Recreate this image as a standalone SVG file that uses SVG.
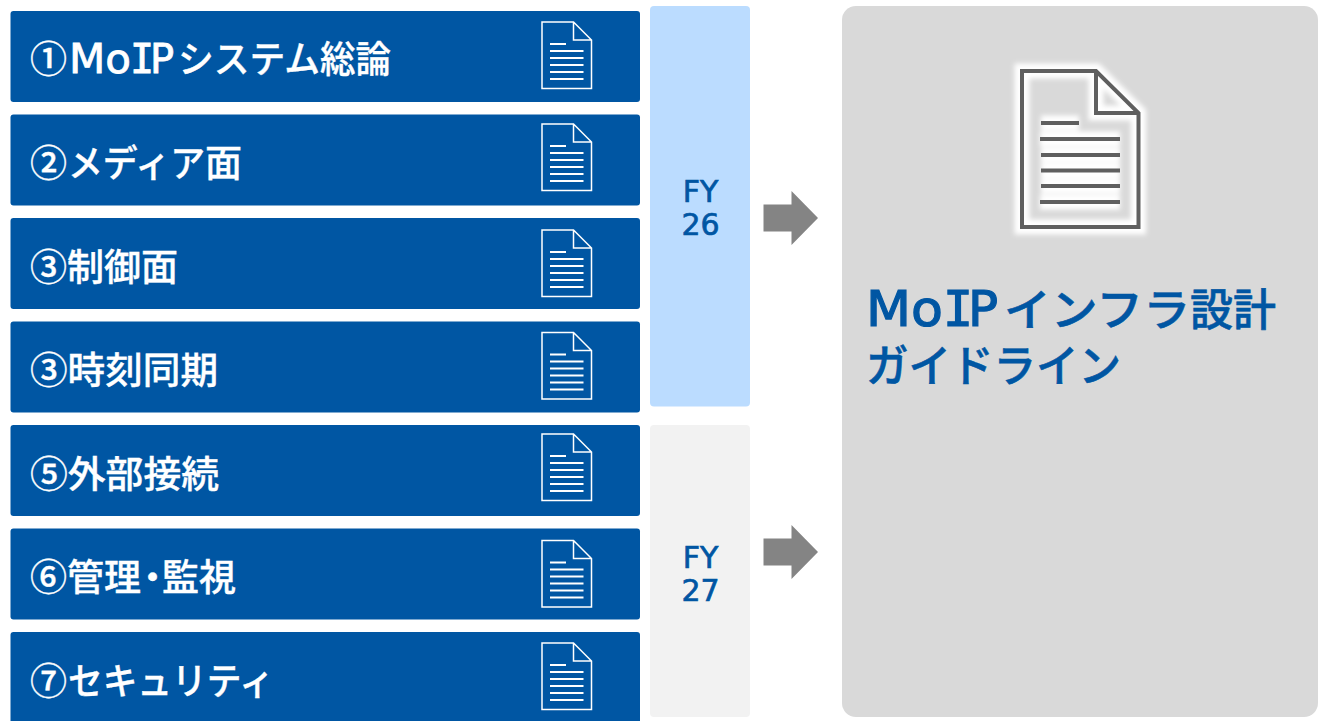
<svg xmlns="http://www.w3.org/2000/svg" width="1332" height="721" viewBox="0 0 1332 721">
<style>
.row{fill:#0056a3}
.lbl{font-family:"Noto Sans CJK JP","Noto Sans",sans-serif;font-size:37px;font-weight:500;fill:#fff;stroke:#fff;stroke-width:.35}
.lat{font-family:"DejaVu Sans",sans-serif;font-size:40px;font-weight:400;stroke:#fff;stroke-width:.8}
.mono{font-family:"DejaVu Sans Mono",monospace;font-size:40px;font-weight:400;stroke:#fff;stroke-width:.8}
.fy{font-family:"DejaVu Sans",sans-serif;font-size:30px;fill:#0056a3;text-anchor:middle;stroke:#0056a3;stroke-width:.7}
.ttl{font-family:"Noto Sans CJK JP","Noto Sans",sans-serif;font-size:44px;font-weight:500;fill:#0056a3;stroke:#0056a3;stroke-width:.6}
.ttllat{font-family:"DejaVu Sans",sans-serif;font-size:50px;stroke:#0056a3;stroke-width:1.2}
.ttlmono{font-family:"DejaVu Sans Mono",monospace;font-size:50px;stroke:#0056a3;stroke-width:1.2}
.arw{fill:#848484}
.ic{fill:none;stroke:#fff;stroke-width:1.5}
.icl{fill:none;stroke:#fff;stroke-width:1.8}
.big{fill:none;stroke:#5f5f5f;stroke-width:4}
.glow{fill:none;stroke:#fff;stroke-width:15}
</style>
<defs>
<filter id="blur" x="-20%" y="-20%" width="140%" height="140%"><feGaussianBlur stdDeviation="2.500"/></filter>
<g id="doc">
<path class="ic" d="M0 0H31.500L49.500 18V66.500H0ZM31.500 0V18H49.500"/>
<path class="icl" d="M8 22H24M8 29H41.500M8 36H41.500M8 43H41.500M8 50H41.500M8 57H41.500"/>
</g>
</defs>
<rect width="1332" height="721" fill="#fff"/>
<g id="n1"><rect class="row" x="10.500" y="11" width="629.500" height="91" rx="3"/><text class="lbl" y="73"><tspan x="30">①</tspan><tspan class="lat" x="69" textLength="62" lengthAdjust="spacingAndGlyphs">Mo</tspan><tspan class="mono" x="130">I</tspan><tspan class="lat" x="150">P</tspan><tspan x="178" textLength="142" lengthAdjust="spacingAndGlyphs">システム</tspan><tspan x="320" textLength="71" lengthAdjust="spacingAndGlyphs">総論</tspan></text><use href="#doc" x="542" y="22"/></g>
<g id="n2"><rect class="row" x="10.500" y="114.500" width="629.500" height="91" rx="3"/><text class="lbl" y="177"><tspan x="30">②</tspan><tspan x="68" textLength="137" lengthAdjust="spacingAndGlyphs">メディア</tspan><tspan x="205">面</tspan></text><use href="#doc" x="542" y="124"/></g>
<g id="n3"><rect class="row" x="10.500" y="218" width="629.500" height="91" rx="3"/><text class="lbl" x="30" y="281">③制御面</text><use href="#doc" x="542" y="230"/></g>
<g id="n4"><rect class="row" x="10.500" y="321.500" width="629.500" height="91" rx="3"/><text class="lbl" x="30" y="384" textLength="188" lengthAdjust="spacingAndGlyphs">③時刻同期</text><use href="#doc" x="542" y="332.500"/></g>
<g id="n5"><rect class="row" x="10.500" y="425" width="629.500" height="91" rx="3"/><text class="lbl" x="30" y="488" textLength="189" lengthAdjust="spacingAndGlyphs">⑤外部接続</text><use href="#doc" x="542" y="434"/></g>
<g id="n6"><rect class="row" x="10.500" y="528.500" width="629.500" height="91" rx="3"/><text class="lbl" y="591"><tspan x="30">⑥管理</tspan><tspan x="134">・</tspan><tspan x="162">監視</tspan></text><use href="#doc" x="542" y="540.500"/></g>
<g id="n7"><rect class="row" x="10.500" y="632" width="629.500" height="95" rx="3"/><text class="lbl" y="695"><tspan x="30">⑦</tspan><tspan x="68" textLength="206" lengthAdjust="spacingAndGlyphs">セキュリティ</tspan></text><use href="#doc" x="542" y="643"/></g>
<g id="fy26"><rect x="650" y="6" width="100" height="400.500" rx="4" fill="#bbdcff"/><text class="fy" x="700.500" y="202">FY</text><text class="fy" x="700.500" y="235">26</text></g>
<g id="fy27"><rect x="650" y="425" width="100" height="292" rx="4" fill="#f2f2f2"/><text class="fy" x="700.500" y="568">FY</text><text class="fy" x="700.500" y="601">27</text></g>
<g id="guideline">
<rect x="842" y="6" width="476" height="711" rx="14" fill="#d9d9d9"/>
<g filter="url(#blur)"><path class="glow" d="M1022 71H1096L1138.500 113V227H1022Z"/><path class="glow" d="M1096 71V113H1138.500M1041 123H1079M1040 139H1120M1041 155H1120M1041 170.500H1120M1041 186H1120M1040 202H1120"/></g>
<path class="big" d="M1022 71H1096L1138.500 113V227H1022ZM1096 71V113H1138.500"/>
<path class="big" d="M1041 123H1079M1040 139H1120M1041 155H1120M1041 170.500H1120M1041 186H1120M1040 202H1120"/>
<text class="ttl" y="326"><tspan class="ttllat" x="866" textLength="77" lengthAdjust="spacingAndGlyphs">Mo</tspan><tspan class="ttlmono" x="943">I</tspan><tspan class="ttllat" x="968">P</tspan><tspan x="1004" textLength="186" lengthAdjust="spacingAndGlyphs">インフラ</tspan><tspan x="1190" textLength="86" lengthAdjust="spacingAndGlyphs">設計</tspan></text>
<text class="ttl" x="866" y="382" textLength="255" lengthAdjust="spacingAndGlyphs">ガイドライン</text>
</g>
<g id="connectors">
<path class="arw" d="M763.500 204.500H791.500V191L818 218 791.500 245V231.500H763.500Z"/>
<path class="arw" d="M763.500 538.500H791.500V525L818 552 791.500 579V565.500H763.500Z"/>
</g>
</svg>
